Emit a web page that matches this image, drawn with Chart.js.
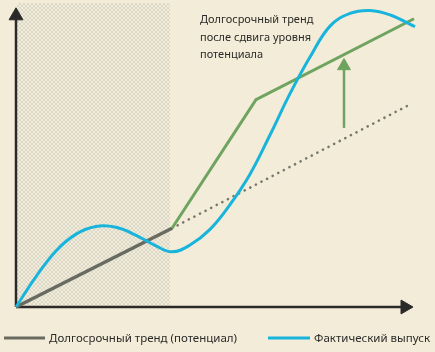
<!DOCTYPE html>
<html lang="ru">
<head>
  <meta charset="UTF-8">
  <title>Долгосрочный тренд и фактический выпуск</title>
  <style>
    html, body { margin: 0; padding: 0; background: #f3ecd9; }
    #wrap { width: 435px; height: 352px; position: relative; }
  </style>
</head>
<body>
  <div id="wrap"><canvas id="chart" width="435" height="352"></canvas></div>

  <script src="https://cdn.jsdelivr.net/npm/chart.js"></script>
  <script>
    // values (x: time 0..100, y: level 0..101)
    const trendX = [0, 39];
    const trendY = [0, 26.7];
    const oldTrendX = [39, 99];
    const oldTrendY = [26.7, 69];
    const newTrendX = [39, 60, 99.5];
    const newTrendY = [26.7, 70.3, 97.7];
    const actualX = [0, 5, 10, 15, 20, 25, 30, 35, 39, 43.5, 48.5, 53.5, 58.5, 63.5, 68.5, 73.5, 78.5, 83.5, 88.5, 93.5, 99.75];
    const actualY = [0, 10.3, 19, 24.7, 27.3, 27, 24.3, 20.7, 18.7, 21, 26.3, 34.7, 45, 58.3, 72.3, 84.7, 95.2, 99.5, 100.5, 99, 95];
    const shiftX = [82, 82];
    const shiftY = [60.7, 81.7];
    const shadeFrom = 0.25, shadeTo = 38.5;

    const legendLabels = ['Долгосрочный тренд (потенциал)', 'Фактический выпуск'];
    const noteLines = ['Долгосрочный тренд', 'после сдвига уровня', 'потенциала'];

    const pts = (xs, ys) => xs.map((x, i) => ({ x: x, y: ys[i] }));

    const gray = '#6a6b60';
    const green = '#6ea45f';
    const blue = '#19b4dc';
    const ink = '#2a2a28';

    // stippled area for the past period
    function makePattern(ctx) {
      const dots = [[0, 0], [2, 1], [1, 2], [3, 3], [3, 0], [1, 1], [0, 3], [2, 2]];
      const c = document.createElement('canvas');
      c.width = 4; c.height = 4;
      const p = c.getContext('2d');
      p.fillStyle = '#f3ecd9';
      p.fillRect(0, 0, 4, 4);
      p.fillStyle = '#dad8c9';
      dots.forEach(d => p.fillRect(d[0], d[1], 1, 1));
      return ctx.createPattern(c, 'repeat');
    }

    const decor = {
      id: 'decor',
      beforeDatasetsDraw(chart) {
        const { ctx, scales: { x, y } } = chart;
        ctx.save();
        ctx.fillStyle = makePattern(ctx);
        const l = x.getPixelForValue(shadeFrom), r = x.getPixelForValue(shadeTo);
        ctx.fillRect(l, 3, r - l, y.getPixelForValue(0) - 3);
        ctx.restore();
      },
      afterDraw(chart) {
        const { ctx } = chart;
        ctx.save();
        ctx.fillStyle = ink;
        ctx.textBaseline = 'middle';
        ctx.font = '11px "Noto Sans"';
        noteLines.forEach((t, i) => ctx.fillText(t, 200, 20 + i * 17.5));

        // legend
        ctx.lineWidth = 3;
        ctx.strokeStyle = gray;
        ctx.beginPath(); ctx.moveTo(4, 338); ctx.lineTo(45, 338); ctx.stroke();
        ctx.strokeStyle = blue;
        ctx.beginPath(); ctx.moveTo(268, 338); ctx.lineTo(310, 338); ctx.stroke();
        ctx.font = '11.5px "Noto Sans"';
        ctx.fillText(legendLabels[0], 49, 339);
        ctx.fillText(legendLabels[1], 314, 339);
        ctx.restore();
      }
    };

    new Chart(document.getElementById('chart'), {
      type: 'scatter',
      data: {
        datasets: [
          {
            label: 'Фактический выпуск',
            data: pts(actualX, actualY),
            showLine: true, borderColor: blue, borderWidth: 3,
            pointRadius: 0, tension: 0.4, order: 0
          },
          {
            label: 'Долгосрочный тренд (потенциал)',
            data: pts(trendX, trendY),
            showLine: true, borderColor: gray, borderWidth: 3.5,
            pointRadius: 0, order: 2
          },
          {
            label: 'Тренд без сдвига',
            data: pts(oldTrendX, oldTrendY),
            showLine: true, borderColor: '#77786c', borderWidth: 2.6,
            borderDash: [0.1, 6.2], borderCapStyle: 'round',
            pointRadius: 0, order: 3
          },
          {
            label: 'Тренд после сдвига',
            data: pts(newTrendX, newTrendY),
            showLine: true, borderColor: green, borderWidth: 3,
            pointRadius: 0, order: 1
          },
          {
            label: 'Сдвиг',
            data: pts(shiftX, shiftY),
            showLine: true, borderColor: green, borderWidth: 2.5,
            pointRadius: [0, 7.5], pointStyle: 'triangle',
            pointBackgroundColor: green, pointBorderColor: green, pointBorderWidth: 1,
            order: 1
          },
          {
            label: 'ось Y',
            data: [{ x: 0, y: 0 }, { x: 0, y: 98.7 }],
            showLine: true, borderColor: ink, borderWidth: 2.5,
            pointRadius: [0, 8], pointStyle: 'triangle',
            pointBackgroundColor: ink, pointBorderColor: ink, pointBorderWidth: 1,
            order: 4
          },
          {
            label: 'ось X',
            data: [{ x: 0, y: 0 }, { x: 97.25, y: 0 }],
            showLine: true, borderColor: ink, borderWidth: 2.5,
            pointRadius: [0, 8], pointStyle: 'triangle', pointRotation: 90,
            pointBackgroundColor: ink, pointBorderColor: ink, pointBorderWidth: 1,
            order: 4
          }
        ]
      },
      options: {
        responsive: false,
        animation: false,
        layout: { padding: { left: 16, right: 19, top: 4, bottom: 45 } },
        scales: {
          x: { type: 'linear', min: 0, max: 100, display: false },
          y: { type: 'linear', min: 0, max: 101, display: false }
        },
        plugins: {
          legend: { display: false },
          tooltip: { enabled: false }
        },
        elements: { line: { tension: 0 } },
        clip: false
      },
      plugins: [decor]
    });
  </script>
</body>
</html>
